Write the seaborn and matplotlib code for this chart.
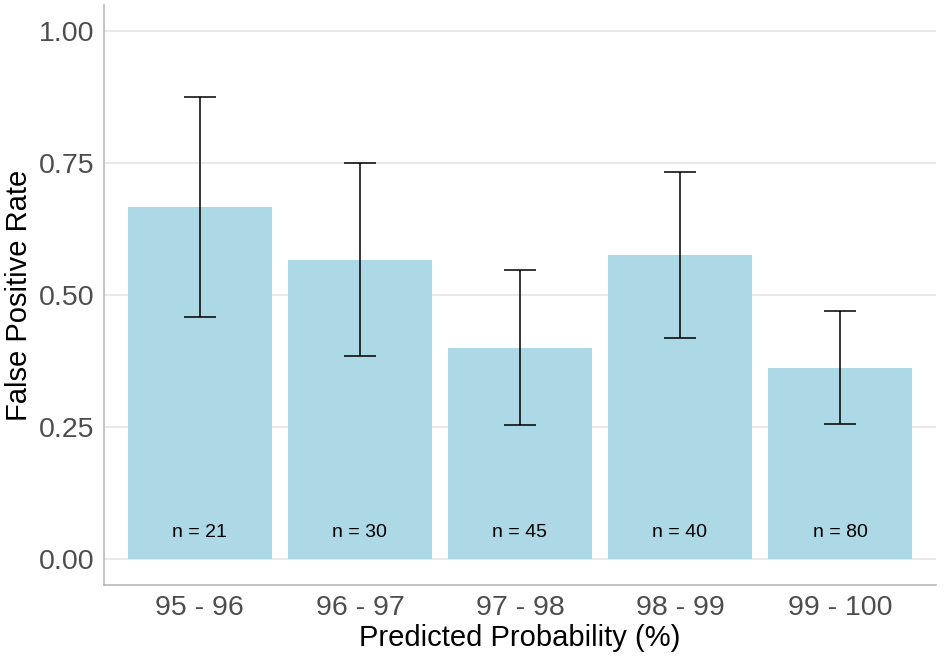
import numpy as np
import pandas as pd
import seaborn as sns
import matplotlib.pyplot as plt

# data
bins = ['95 - 96', '96 - 97', '97 - 98', '98 - 99', '99 - 100']
fp_rate = [0.667, 0.567, 0.400, 0.575, 0.3625]
ci_low = [0.458, 0.384, 0.254, 0.419, 0.256]
ci_high = [0.875, 0.750, 0.547, 0.733, 0.470]
n_obs = [21, 30, 45, 40, 80]

df = pd.DataFrame({'bin': bins, 'rate': fp_rate})

sns.set_style('white')
plt.rcParams['font.family'] = ['Liberation Sans', 'DejaVu Sans']

fig = plt.figure(figsize=(9.44, 6.62), dpi=100)
ax = fig.add_axes([0.110, 0.1163, 0.8815, 0.8761])

sns.barplot(data=df, x='bin', y='rate', color='lightblue', saturation=1, width=0.9,
            edgecolor='none', ax=ax, zorder=2)

x = np.arange(len(bins))
rate = np.array(fp_rate)
yerr = [rate - np.array(ci_low), np.array(ci_high) - rate]
ax.errorbar(x, rate, yerr=yerr, fmt='none', ecolor='black', elinewidth=1.1,
            capsize=11.5, capthick=1.1, zorder=3)

for i, n in enumerate(n_obs):
    ax.text(i, 0.05, 'n = %d' % n, ha='center', va='center', fontsize=14, color='black', zorder=4)

ax.set_xlim(-0.6, len(bins) - 0.4)
ax.set_ylim(-0.05, 1.05)
ax.set_yticks([0, 0.25, 0.5, 0.75, 1.0])
ax.set_yticklabels(['0.00', '0.25', '0.50', '0.75', '1.00'])
ax.yaxis.grid(True, color='#e3e3e3', linewidth=1.1, zorder=0)
ax.set_axisbelow(True)

for s in ['top', 'right']:
    ax.spines[s].set_visible(False)
for s in ['left', 'bottom']:
    ax.spines[s].set_color('#b3b3b3')
    ax.spines[s].set_linewidth(1.1)

ax.tick_params(axis='both', colors='#b3b3b3', labelcolor='#4d4d4d', labelsize=20.5, length=4, width=1.1, pad=3)
ax.set_xlabel('Predicted Probability (%)', fontsize=21, color='black', labelpad=2)
ax.set_ylabel('False Positive Rate', fontsize=21, color='black', labelpad=4)

fig.savefig('out.png', dpi=100)
